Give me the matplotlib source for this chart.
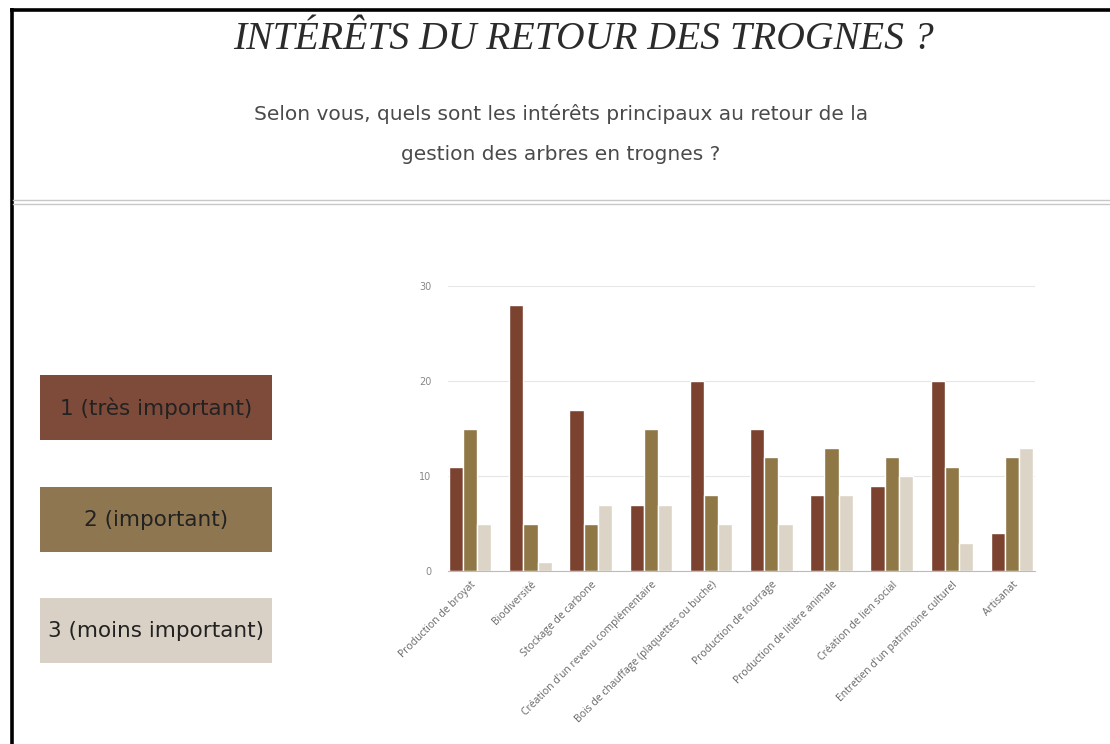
import numpy as np
import matplotlib
matplotlib.use("Agg")
import matplotlib.pyplot as plt
from matplotlib.patches import Rectangle
from matplotlib.lines import Line2D

categories = [
    "Production de broyat",
    "Biodiversité",
    "Stockage de carbone",
    "Création d'un revenu complémentaire",
    "Bois de chauffage (plaquettes ou buche)",
    "Production de fourrage",
    "Production de litière animale",
    "Création de lien social",
    "Entretien d'un patrimoine culturel",
    "Artisanat",
]
tres_important = [11, 28, 17, 7, 20, 15, 8, 9, 20, 4]
important = [15, 5, 5, 15, 8, 12, 13, 12, 11, 12]
moins_important = [5, 1, 7, 7, 5, 5, 8, 10, 3, 13]

series_labels = ["1 (très important)", "2 (important)", "3 (moins important)"]
bar_colors = ["#7b4230", "#8f7746", "#dcd4c6"]
box_colors = ["#7e4b3b", "#8e7651", "#d9d1c5"]

W, H = 1110, 744
fig = plt.figure(figsize=(W / 100, H / 100), dpi=100)
fig.patch.set_facecolor("white")


def px(x, y):
    # pixel coords (top-left origin) -> figure fraction
    return x / W, 1 - y / H


# page frame: black rules on top and left, double grey rule under the header
fig.add_artist(Line2D([10 / W, 1], [1 - 9.5 / H] * 2, color="black", lw=2.6,
                      solid_capstyle="butt"))
fig.add_artist(Line2D([11.5 / W] * 2, [0, 1 - 8 / H], color="black", lw=2.6,
                      solid_capstyle="butt"))
fig.add_artist(Line2D([13 / W, 1], [1 - 199.5 / H] * 2, color="#c8c8c8", lw=1.0))
fig.add_artist(Line2D([13 / W, 1], [1 - 203.5 / H] * 2, color="#c8c8c8", lw=1.0))

# header
fig.text(*px(584, 49), "INTÉRÊTS DU RETOUR DES TROGNES ?", ha="center", va="baseline",
         fontsize=28.5, fontstyle="italic", family="Liberation Serif", color="#2b2b2b")
fig.text(*px(561, 114), "Selon vous, quels sont les intérêts principaux au retour de la",
         ha="center", va="center", fontsize=14.5, family="DejaVu Sans", color="#4a4a4a")
fig.text(*px(561, 155), "gestion des arbres en trognes ?",
         ha="center", va="center", fontsize=14.5, family="DejaVu Sans", color="#4a4a4a")

# legend boxes
box_tops = [375, 487, 598]
for top, lab, col in zip(box_tops, series_labels, box_colors):
    x0, y0 = px(40, top + 65)
    fig.add_artist(Rectangle((x0, y0), 232 / W, 65 / H, transform=fig.transFigure,
                             facecolor=col, edgecolor="none"))
    fig.text(*px(156, top + 33), lab, ha="center", va="center", fontsize=15.5,
             family="DejaVu Sans", color="#222222")

# bar chart
left, bottom = px(448, 571)
ax = fig.add_axes([left, bottom, (1035 - 448) / W, (571 - 286) / H])
x = np.arange(len(categories))
bw = 0.235
for i, (vals, col) in enumerate(zip([tres_important, important, moins_important], bar_colors)):
    ax.bar(x + (i - 1) * bw, vals, width=bw, color=col, edgecolor="white", linewidth=1.0)

ax.set_xlim(-0.37, 9.38)
ax.set_ylim(0, 30)
ax.set_yticks([0, 10, 20, 30])
ax.tick_params(axis="y", length=0, labelsize=7, labelcolor="#888888", pad=12)
ax.grid(axis="y", color="#e6e6e6", linewidth=0.8)
ax.set_axisbelow(True)
for s in ["top", "right", "left"]:
    ax.spines[s].set_visible(False)
ax.spines["bottom"].set_color("#bbbbbb")
ax.spines["bottom"].set_linewidth(0.8)
ax.set_xticks(x)
ax.set_xticklabels(categories, rotation=45, ha="right", rotation_mode="anchor",
                   fontsize=7.5, color="#666666", family="Open Sans")
ax.tick_params(axis="x", length=0, pad=6)

fig.savefig("out.png", dpi=100, facecolor="white")
